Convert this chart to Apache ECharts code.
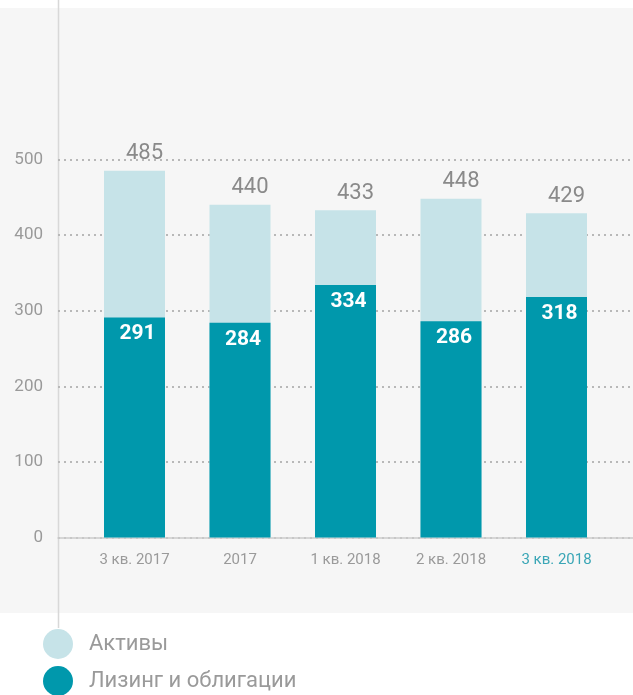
<!DOCTYPE html>
<html><head><meta charset="utf-8">
<script src="https://cdn.jsdelivr.net/npm/echarts@6/dist/echarts.min.js"></script>
<style>html,body{margin:0;padding:0;background:#fff}#c{width:633px;height:695px}</style>
</head><body><div id="c"></div>
<script>
const categories = ['3 кв. 2017', '2017', '1 кв. 2018', '2 кв. 2018', '3 кв. 2018'];
const assets = [485, 440, 433, 448, 429];
const leasing = [291, 284, 334, 286, 318];
const yTicks = [0, 100, 200, 300, 400, 500];
const seriesNames = ['Активы', 'Лизинг и облигации'];

const FONT = 'Roboto';
const chart = echarts.init(document.getElementById('c'));
const gridTop = 159.5, gridBottom = 157.5;
chart.setOption({
  animation: false,
  textStyle: { fontFamily: FONT },
  graphic: [
    { type: 'rect', z: -10, silent: true, shape: { x: 0, y: 8, width: 633, height: 605 }, style: { fill: '#f6f6f6' } },
    { type: 'line', z: -5, silent: true, shape: { x1: 58.5, y1: 0, x2: 58.5, y2: 628 }, style: { stroke: '#d8d8d8', lineWidth: 1.5 } }
  ],
  legend: {
    orient: 'vertical', left: 43, top: 629, padding: 0, itemWidth: 30, itemHeight: 30, itemGap: 7,
    height: 72,
    icon: 'circle',
    data: seriesNames,
    textStyle: { fontFamily: FONT, fontSize: 22, color: '#9a9a9a', padding: [0, 0, 0, 11] }
  },
  grid: [
    { left: 58, right: 0, top: gridTop, bottom: gridBottom },
    { left: 81.75, right: 23.75, top: gridTop, bottom: gridBottom }
  ],
  xAxis: [
    { gridIndex: 0, type: 'category', data: [''], axisLine: { show: true, lineStyle: { color: '#cccccc', width: 1.5 } }, axisTick: { show: false }, axisLabel: { show: false } },
    { gridIndex: 1, type: 'category', data: categories, axisLine: { show: false }, axisTick: { show: false },
      axisLabel: { margin: 15, fontFamily: FONT, fontSize: 15,
        color: function (v, i) { return i === categories.length - 1 ? '#3aa6b6' : '#9a9a9a'; } } }
  ],
  yAxis: [
    { gridIndex: 0, type: 'value', min: 0, max: 500, interval: 100,
      axisLine: { show: false }, axisTick: { show: false },
      axisLabel: { margin: 15, fontFamily: FONT, fontSize: 17, color: '#9a9a9a',
        formatter: function (v) { return yTicks.indexOf(v) >= 0 ? String(v) : ''; } },
      splitLine: { show: true, lineStyle: { color: '#b8b8b8', width: 2, type: [2, 4] } } },
    { gridIndex: 1, type: 'value', min: 0, max: 500, interval: 100, show: false, splitLine: { show: false } }
  ],
  series: [
    { name: seriesNames[0], type: 'bar', xAxisIndex: 1, yAxisIndex: 1, data: assets, barWidth: 61, barGap: '-100%',
      itemStyle: { color: '#c6e3e8' },
      label: { show: true, position: 'top', distance: 6, offset: [10, 0], fontFamily: FONT, fontSize: 22, color: '#8a8a8a' } },
    { name: seriesNames[1], type: 'bar', xAxisIndex: 1, yAxisIndex: 1, data: leasing, barWidth: 61, barGap: '-100%',
      itemStyle: { color: '#0098ac' },
      label: { show: true, position: 'insideTop', distance: 6, offset: [3, 0], fontFamily: FONT, fontSize: 21, fontWeight: 'bold', color: '#ffffff' } }
  ]
});
</script></body></html>
